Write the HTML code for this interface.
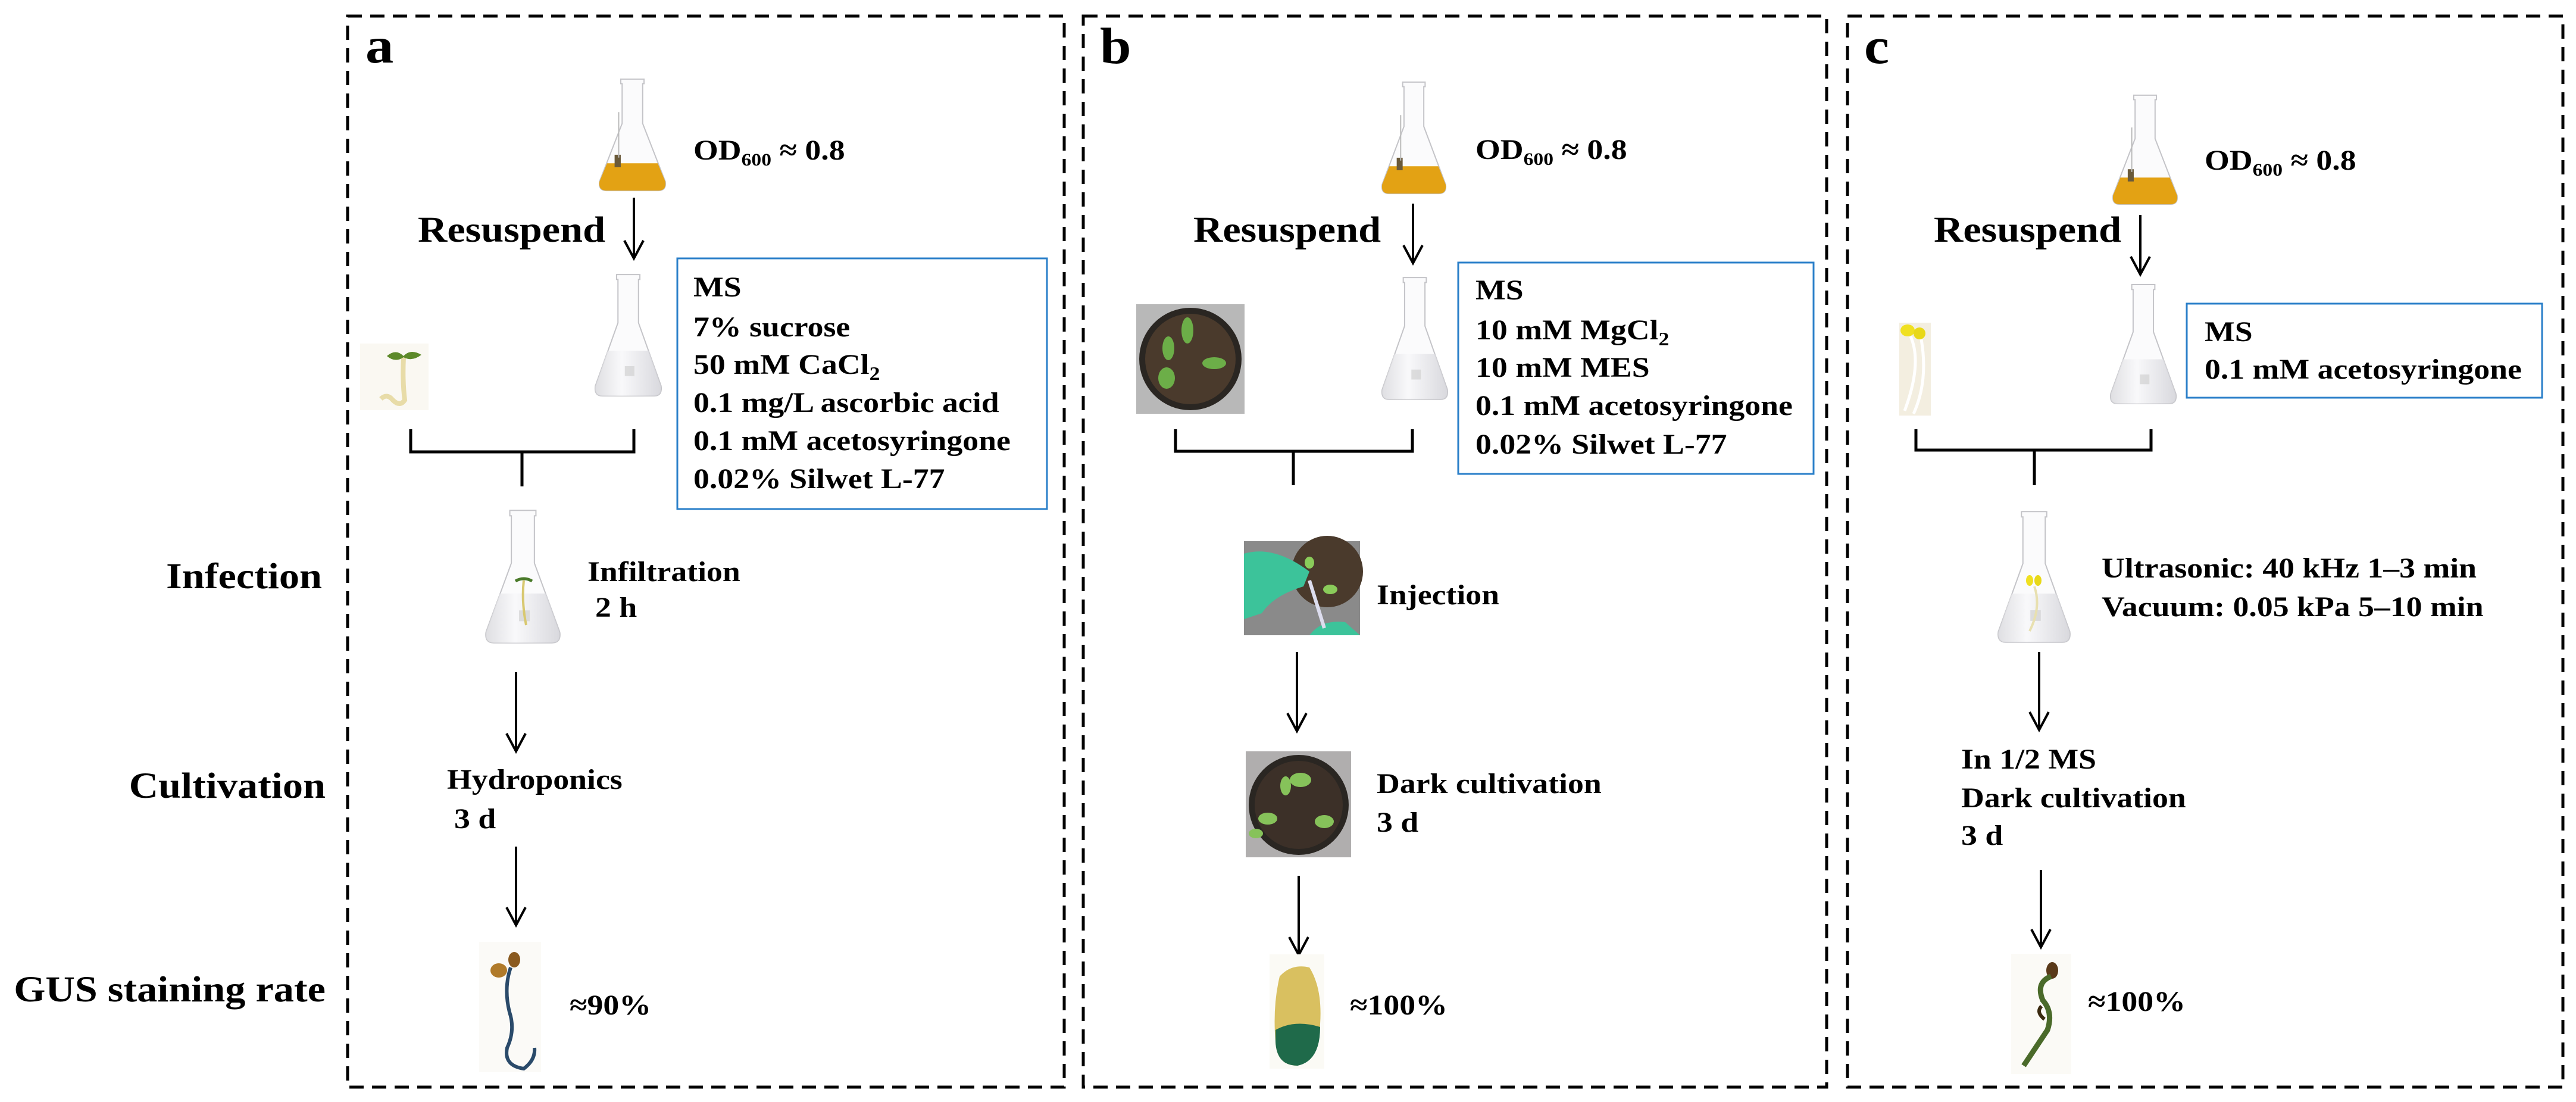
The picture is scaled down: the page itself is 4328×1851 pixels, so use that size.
<!DOCTYPE html>
<html><head><meta charset="utf-8"><style>
html,body{margin:0;padding:0;background:#fff;}
svg{display:block;}
text{font-family:"Liberation Serif","Times New Roman",serif;font-weight:bold;fill:#000;}
.s{font-size:48px;}
.l{font-size:61px;}
.p{font-size:86px;}
</style></head><body>
<svg width="4328" height="1851" viewBox="0 0 4328 1851" xmlns="http://www.w3.org/2000/svg">
<defs>
<linearGradient id="gl" x1="0" x2="1" y1="0" y2="0">
<stop offset="0" stop-color="#d8d8dc"/><stop offset="0.4" stop-color="#f8f8fa"/><stop offset="1" stop-color="#d0d0d6"/>
</linearGradient>
<g id="flask">
<path d="M33,2 H67 V10 H65 V80 L98,182 Q100,198 88,198 H12 Q0,198 2,182 L35,80 V10 H33 Z" fill="#fbfbfc" stroke="#c4c4c8" stroke-width="2" vector-effect="non-scaling-stroke"/>
<path d="M20,125 H80 L98,182 Q100,198 88,198 H12 Q0,198 2,182 Z" fill="url(#gl)" opacity="0.8"/>
<rect x="45" y="150" width="14" height="16" fill="#ccc" opacity="0.6"/>
</g>
<g id="oflask">
<path d="M33,2 H67 V10 H65 V80 L98,182 Q100,198 88,198 H12 Q0,198 2,182 L35,80 V10 H33 Z" fill="#fbfbfc" stroke="#c4c4c8" stroke-width="2" vector-effect="non-scaling-stroke"/>
<path d="M13,150 H87 L98,182 Q100,198 88,198 H12 Q0,198 2,182 Z" fill="#e3a214"/>
<rect x="24" y="135" width="9" height="22" fill="#6a5a3a"/>
<line x1="30" y1="60" x2="30" y2="140" stroke="#bbb" stroke-width="2" vector-effect="non-scaling-stroke"/>
</g>
<g id="arr">
<path d="M-16,-30 L0,0 L16,-30" fill="none" stroke="#000" stroke-width="4"/>
</g>
</defs>

<!-- dashed panels -->
<g fill="none" stroke="#000" stroke-width="5" stroke-dasharray="24 14">
<rect x="584" y="27" width="1204" height="1799"/>
<rect x="1820" y="27" width="1249" height="1799"/>
<rect x="3104" y="27" width="1202" height="1799"/>
</g>

<!-- left labels -->
<text class="l" text-anchor="end" transform="translate(541,988) scale(1.12,1)">Infection</text>
<text class="l" text-anchor="end" transform="translate(547,1340) scale(1.12,1)">Cultivation</text>
<text class="l" text-anchor="end" transform="translate(547,1682) scale(1.12,1)">GUS staining rate</text>

<!-- panel letters -->
<text class="p" transform="translate(614,105) scale(1.1,1)">a</text>
<text class="p" transform="translate(1848,106) scale(1.1,1)">b</text>
<text class="p" transform="translate(3132,106) scale(1.1,1)">c</text>

<!-- ============ PANEL A ============ -->
<use href="#oflask" transform="translate(1005,131) scale(1.15,0.955)"/>
<text class="s" transform="translate(1165,268) scale(1.12,1)">OD<tspan font-size="30" dy="10">600</tspan><tspan dy="-10"> ≈ 0.8</tspan></text>
<text class="l" transform="translate(702,406) scale(1.12,1)">Resuspend</text>
<line x1="1065" y1="332" x2="1065" y2="432" stroke="#000" stroke-width="4"/>
<use href="#arr" transform="translate(1065,434)"/>
<use href="#flask" transform="translate(998,459) scale(1.15,1.04)"/>
<rect x="1138" y="434" width="621" height="421" fill="none" stroke="#2a7fc9" stroke-width="3"/>
<text class="s" transform="translate(1165,498) scale(1.12,1)">MS</text>
<text class="s" transform="translate(1165,565) scale(1.12,1)">7% sucrose</text>
<text class="s" transform="translate(1165,628) scale(1.12,1)">50 mM CaCl<tspan font-size="32" dy="10">2</tspan></text>
<text class="s" transform="translate(1165,692) scale(1.12,1)">0.1 mg/L ascorbic acid</text>
<text class="s" transform="translate(1165,756) scale(1.12,1)">0.1 mM acetosyringone</text>
<text class="s" transform="translate(1165,820) scale(1.12,1)">0.02% Silwet L-77</text>
<!-- seedling a -->
<rect x="605" y="577" width="115" height="112" fill="#faf8f2"/>
<path d="M678,600 Q676,640 680,672 Q672,684 660,672 Q650,660 640,670" fill="none" stroke="#e8dca8" stroke-width="8"/>
<path d="M650,598 Q665,585 678,598 Q690,585 708,596 Q692,608 678,600 Q664,610 650,598Z" fill="#5d8a2a"/>
<!-- bracket -->
<path d="M690,721 V759 H1065 V721 M877,759 V817" fill="none" stroke="#000" stroke-width="5"/>
<use href="#flask" transform="translate(814,855) scale(1.29,1.135)"/>
<path d="M880,975 Q876,1010 884,1050" stroke="#d8c870" stroke-width="4" fill="none"/>
<path d="M866,976 Q880,968 894,976" stroke="#4a7a2a" stroke-width="5" fill="none"/>
<text class="s" transform="translate(987,976) scale(1.12,1)">Infiltration</text>
<text class="s" transform="translate(1000,1036) scale(1.12,1)">2 h</text>
<line x1="867" y1="1129" x2="867" y2="1260" stroke="#000" stroke-width="4"/>
<use href="#arr" transform="translate(867,1262)"/>
<text class="s" transform="translate(751,1325) scale(1.12,1)">Hydroponics</text>
<text class="s" transform="translate(763,1391) scale(1.12,1)">3 d</text>
<line x1="867" y1="1422" x2="867" y2="1552" stroke="#000" stroke-width="4"/>
<use href="#arr" transform="translate(867,1554)"/>
<!-- GUS seedling a -->
<rect x="805" y="1582" width="104" height="219" fill="#fbfaf7"/>
<ellipse cx="838" cy="1630" rx="14" ry="12" fill="#b07a2a"/>
<ellipse cx="864" cy="1612" rx="10" ry="13" fill="#8a5a20"/>
<path d="M858,1625 Q846,1660 856,1700 Q866,1730 852,1760 Q846,1790 880,1795 Q900,1780 898,1760" fill="none" stroke="#2a4a6a" stroke-width="6"/>
<text class="s" transform="translate(957,1704) scale(1.12,1)">≈90%</text>

<!-- ============ PANEL B ============ -->
<use href="#oflask" transform="translate(2320,136) scale(1.11,0.955)"/>
<text class="s" transform="translate(2479,267) scale(1.12,1)">OD<tspan font-size="30" dy="10">600</tspan><tspan dy="-10"> ≈ 0.8</tspan></text>
<text class="l" transform="translate(2005,406) scale(1.12,1)">Resuspend</text>
<line x1="2374" y1="342" x2="2374" y2="440" stroke="#000" stroke-width="4"/>
<use href="#arr" transform="translate(2374,442)"/>
<use href="#flask" transform="translate(2320,464) scale(1.14,1.045)"/>
<rect x="2450" y="441" width="597" height="355" fill="none" stroke="#2a7fc9" stroke-width="3"/>
<text class="s" transform="translate(2479,503) scale(1.12,1)">MS</text>
<text class="s" transform="translate(2479,570) scale(1.12,1)">10 mM MgCl<tspan font-size="32" dy="10">2</tspan></text>
<text class="s" transform="translate(2479,633) scale(1.12,1)">10 mM MES</text>
<text class="s" transform="translate(2479,697) scale(1.12,1)">0.1 mM acetosyringone</text>
<text class="s" transform="translate(2479,762) scale(1.12,1)">0.02% Silwet L-77</text>
<!-- pot -->
<rect x="1909" y="511" width="182" height="184" fill="#b8b8b8"/>
<circle cx="2000" cy="603" r="86" fill="#2a2622"/>
<circle cx="2000" cy="603" r="76" fill="#4a3a2c"/>
<g fill="#6cae48"><ellipse cx="1995" cy="555" rx="10" ry="22"/><ellipse cx="1963" cy="585" rx="10" ry="20"/><ellipse cx="2040" cy="610" rx="20" ry="10"/><ellipse cx="1960" cy="635" rx="14" ry="18"/></g>
<path d="M1975,721 V758 H2373 V721 M2173,758 V815" fill="none" stroke="#000" stroke-width="5"/>
<!-- injection -->
<rect x="2090" y="909" width="195" height="158" fill="#8a8a8a"/>
<circle cx="2230" cy="960" r="60" fill="#4a3a2c"/>
<path d="M2090,930 Q2140,915 2200,960 L2190,985 Q2140,1000 2120,1030 L2090,1040Z" fill="#3cc39a"/>
<path d="M2200,1067 Q2220,1040 2260,1045 L2285,1067Z" fill="#3cc39a"/>
<line x1="2200" y1="975" x2="2225" y2="1055" stroke="#dde" stroke-width="6"/>
<g fill="#8acb5a"><ellipse cx="2200" cy="945" rx="8" ry="10"/><ellipse cx="2235" cy="990" rx="12" ry="8"/></g>
<text class="s" transform="translate(2313,1015) scale(1.12,1)">Injection</text>
<line x1="2179" y1="1095" x2="2179" y2="1226" stroke="#000" stroke-width="4"/>
<use href="#arr" transform="translate(2179,1228)"/>
<!-- dark pot -->
<rect x="2093" y="1262" width="177" height="178" fill="#b0aeae"/>
<circle cx="2182" cy="1352" r="84" fill="#2a2622"/>
<circle cx="2182" cy="1352" r="74" fill="#3c3028"/>
<g fill="#86c25a"><ellipse cx="2185" cy="1310" rx="18" ry="12"/><ellipse cx="2160" cy="1320" rx="9" ry="16"/><ellipse cx="2130" cy="1375" rx="16" ry="10"/><ellipse cx="2225" cy="1380" rx="16" ry="11"/><ellipse cx="2110" cy="1400" rx="12" ry="8"/></g>
<text class="s" transform="translate(2313,1332) scale(1.12,1)">Dark cultivation</text>
<text class="s" transform="translate(2313,1397) scale(1.12,1)">3 d</text>
<line x1="2182" y1="1471" x2="2182" y2="1602" stroke="#000" stroke-width="4"/>
<use href="#arr" transform="translate(2182,1604)"/>
<!-- leaf -->
<rect x="2133" y="1603" width="92" height="192" fill="#fbfaf5"/>
<path d="M2150,1640 Q2170,1618 2200,1625 Q2222,1660 2218,1720 Q2218,1780 2180,1790 Q2145,1790 2143,1750 Q2138,1690 2150,1640Z" fill="#d9c060"/>
<path d="M2143,1730 Q2175,1712 2218,1725 Q2218,1782 2180,1790 Q2145,1790 2143,1750Z" fill="#1f6a4a"/>
<text class="s" transform="translate(2268,1704) scale(1.12,1)">≈100%</text>

<!-- ============ PANEL C ============ -->
<use href="#oflask" transform="translate(3548,158) scale(1.12,0.935)"/>
<text class="s" transform="translate(3704,285) scale(1.12,1)">OD<tspan font-size="30" dy="10">600</tspan><tspan dy="-10"> ≈ 0.8</tspan></text>
<text class="l" transform="translate(3249,406) scale(1.12,1)">Resuspend</text>
<line x1="3596" y1="361" x2="3596" y2="459" stroke="#000" stroke-width="4"/>
<use href="#arr" transform="translate(3596,461)"/>
<use href="#flask" transform="translate(3544,476) scale(1.14,1.02)"/>
<rect x="3674" y="510" width="597" height="158" fill="none" stroke="#2a7fc9" stroke-width="3"/>
<text class="s" transform="translate(3704,573) scale(1.12,1)">MS</text>
<text class="s" transform="translate(3704,636) scale(1.12,1)">0.1 mM acetosyringone</text>
<!-- seedling c -->
<rect x="3191" y="542" width="53" height="156" fill="#f3eee0"/>
<ellipse cx="3205" cy="555" rx="12" ry="10" fill="#f0e020"/>
<ellipse cx="3225" cy="560" rx="10" ry="10" fill="#e8d818"/>
<path d="M3210,565 Q3230,610 3200,690 M3228,570 Q3240,640 3215,695" stroke="#fff" stroke-width="5" fill="none"/>
<path d="M3219,721 V756 H3614 V721 M3418,756 V815" fill="none" stroke="#000" stroke-width="5"/>
<use href="#flask" transform="translate(3355,857) scale(1.25,1.12)"/>
<ellipse cx="3410" cy="975" rx="6" ry="9" fill="#f0e020"/>
<ellipse cx="3424" cy="975" rx="6" ry="9" fill="#e8d818"/>
<path d="M3418,985 Q3430,1020 3410,1060" stroke="#e8e0b0" stroke-width="4" fill="none"/>
<text class="s" transform="translate(3531,970) scale(1.12,1)">Ultrasonic:  40 kHz 1–3 min</text>
<text class="s" transform="translate(3531,1035) scale(1.12,1)">Vacuum: 0.05 kPa 5–10 min</text>
<line x1="3426" y1="1095" x2="3426" y2="1224" stroke="#000" stroke-width="4"/>
<use href="#arr" transform="translate(3426,1226)"/>
<text class="s" transform="translate(3295,1291) scale(1.12,1)">In 1/2 MS</text>
<text class="s" transform="translate(3295,1356) scale(1.12,1)">Dark cultivation</text>
<text class="s" transform="translate(3295,1419) scale(1.12,1)">3 d</text>
<line x1="3429" y1="1461" x2="3429" y2="1589" stroke="#000" stroke-width="4"/>
<use href="#arr" transform="translate(3429,1591)"/>
<rect x="3379" y="1602" width="101" height="202" fill="#fbfaf6"/>
<ellipse cx="3448" cy="1630" rx="10" ry="14" fill="#5a3a1a"/>
<path d="M3446,1640 Q3420,1650 3432,1680 Q3450,1700 3440,1730 Q3420,1760 3400,1790" fill="none" stroke="#4a6a2a" stroke-width="9"/>
<path d="M3430,1690 Q3420,1700 3435,1712" fill="none" stroke="#3a2a10" stroke-width="6"/>
<text class="s" transform="translate(3508,1698) scale(1.12,1)">≈100%</text>
</svg>
</body></html>
